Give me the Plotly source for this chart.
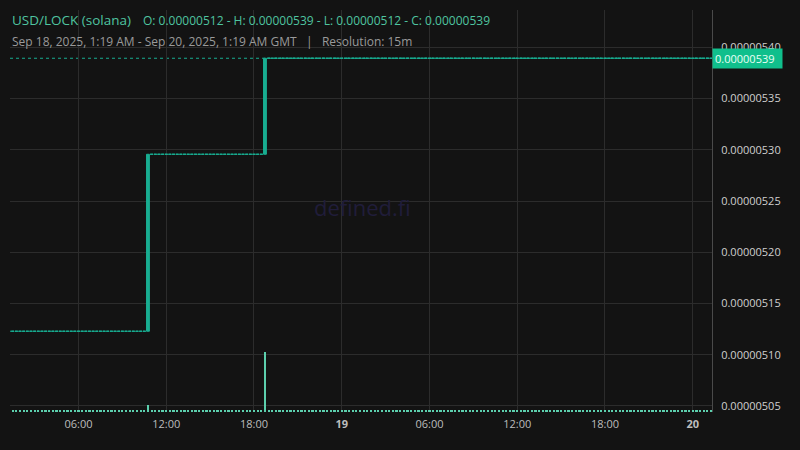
import pandas as pd
import plotly.graph_objects as go

# ---- data ----
candle_start = "2025-09-18 01:15"
candle_end = "2025-09-20 01:15"
resolution = "15min"

# price runs: level reached at the candle that starts at the given time
level_times = ["2025-09-18 01:15", "2025-09-18 10:45", "2025-09-18 18:45"]
level_prices = [0.0000051229, 0.0000052956, 0.0000053893]

# volume: small baseline for every candle, spikes at jump candles
base_volume = 25
spike_times = ["2025-09-18 10:45", "2025-09-18 18:45"]
spike_volumes = [110, 1000]

price_ticks = [0.00000505, 0.00000510, 0.00000515, 0.00000520,
               0.00000525, 0.00000530, 0.00000535, 0.00000540]
price_tick_text = ["0.00000505", "0.00000510", "0.00000515", "0.00000520",
                   "0.00000525", "0.00000530", "0.00000535", "0.00000540"]

time_ticks = ["2025-09-18 06:00", "2025-09-18 12:00", "2025-09-18 18:00",
              "2025-09-19 00:00", "2025-09-19 06:00", "2025-09-19 12:00",
              "2025-09-19 18:00", "2025-09-20 00:00"]
time_tick_text = ["06:00", "12:00", "18:00", "<b>19</b>",
                  "06:00", "12:00", "18:00", "<b>20</b>"]

last_price = 0.0000053893
last_label = "0.00000539"
header_title = "USD/LOCK (solana)"
header_ohlc = "O: 0.00000512 - H: 0.00000539 - L: 0.00000512 - C: 0.00000539"
header_range = "Sep 18, 2025, 1:19 AM - Sep 20, 2025, 1:19 AM GMT   |   Resolution: 15m"

# ---- build candles from runs ----
times = pd.date_range(candle_start, candle_end, freq=resolution)
lt = pd.to_datetime(level_times)
closes = []
for t in times:
    idx = max(i for i in range(len(lt)) if lt[i] <= t)
    closes.append(level_prices[idx])
opens = [closes[0]] + closes[:-1]
highs = [max(o, c) for o, c in zip(opens, closes)]
lows = [min(o, c) for o, c in zip(opens, closes)]
st = pd.to_datetime(spike_times)
volumes = []
for t in times:
    v = base_volume
    for s, sv in zip(st, spike_volumes):
        if s == t:
            v = sv
    volumes.append(v)

UP = "#19ad91"
VOL = "#5ccfad"
BG = "#131313"
GRID = "#2c2c2c"

fig = go.Figure()
fig.add_trace(go.Bar(x=times, y=volumes, yaxis="y2", marker_color=VOL,
                     marker_line_width=0, width=15 * 60 * 1000 * 0.6,
                     showlegend=False, hoverinfo="skip"))
fig.add_trace(go.Candlestick(x=times, open=opens, high=highs, low=lows, close=closes,
                             increasing=dict(line=dict(color=UP, width=1), fillcolor=UP),
                             decreasing=dict(line=dict(color="#ef5350", width=1), fillcolor="#ef5350"),
                             whiskerwidth=0, showlegend=False))

fig.update_layout(
    width=800, height=450,
    margin=dict(l=10, r=88, t=10, b=38),
    paper_bgcolor=BG, plot_bgcolor=BG,
    font=dict(family="Open Sans", color="#bdbdbd", size=11),
    boxgap=0.22, boxgroupgap=0,
    xaxis=dict(range=["2025-09-18 01:19", "2025-09-20 01:19"],
               rangeslider=dict(visible=False),
               tickvals=pd.to_datetime(time_ticks), ticktext=time_tick_text,
               showgrid=True, gridcolor=GRID, gridwidth=1, zeroline=False,
               showline=False, ticks="", ticklabelstandoff=4,
               tickfont=dict(size=11, color="#bdbdbd")),
    yaxis=dict(side="right", range=[0.0000050441, 0.0000054364],
               tickvals=price_ticks, ticktext=price_tick_text,
               showgrid=True, gridcolor=GRID, gridwidth=1, zeroline=False,
               showline=True, linecolor="#4a4a4a", linewidth=1, ticks="",
               ticklabelstandoff=6, tickfont=dict(size=11, color="#cfcfcf")),
    yaxis2=dict(overlaying="y", range=[0, 1000 * 402 / 60], visible=False,
                showgrid=False),
    bargap=0,
)

# header background (hides gridlines behind header text)
fig.add_shape(type="rect", xref="paper", yref="paper",
              x0=-0.02, x1=(500 - 10) / 702, y0=(412 - 54) / 402, y1=1.05,
              fillcolor=BG, line_width=0, layer="between")

# last price dotted line
fig.add_shape(type="line", xref="paper", yref="y", x0=0, x1=1,
              y0=last_price, y1=last_price,
              line=dict(color=UP, width=1, dash="dot"), layer="below")

# price label on the axis
fig.add_annotation(xref="paper", yref="y", x=1.0, y=last_price, xanchor="left",
                   text=last_label + "  ", showarrow=False, bgcolor="#10bf8c",
                   font=dict(color="#eafff6", size=11), borderpad=2, xshift=0)

# watermark
fig.add_annotation(xref="paper", yref="paper", x=(362 - 10) / 702, y=(412 - 207) / 402,
                   text="defined.fi", showarrow=False,
                   font=dict(color="#201d3a", size=22))

# header texts
fig.add_annotation(xref="paper", yref="paper", x=0, y=(412 - 20) / 402,
                   xanchor="left", yanchor="middle", text=header_title,
                   showarrow=False, font=dict(color="#4fc4a0", size=13.5))
fig.add_annotation(xref="paper", yref="paper", x=(141 - 10) / 702, y=(412 - 20) / 402,
                   xanchor="left", yanchor="middle", text=header_ohlc,
                   showarrow=False, font=dict(color="#4fc4a0", size=12))
fig.add_annotation(xref="paper", yref="paper", x=0, y=(412 - 41) / 402,
                   xanchor="left", yanchor="middle", text=header_range,
                   showarrow=False, font=dict(color="#9a9a9a", size=12))

fig.write_html("out.html", config={"displayModeBar": False},
               post_script="document.body.style.margin='0';document.body.style.background='#131313';")
